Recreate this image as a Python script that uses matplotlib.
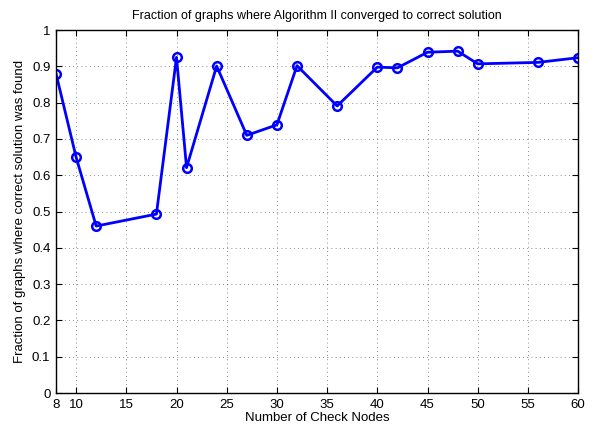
import matplotlib
matplotlib.use("Agg")
import matplotlib.pyplot as plt

# number of check nodes vs fraction of graphs solved
nodes = [8, 10, 12, 18, 20, 21, 24, 27, 30, 32, 36, 40, 42, 45, 48, 50, 56, 60]
frac = [0.880, 0.650, 0.460, 0.493, 0.925, 0.621, 0.901, 0.710, 0.739, 0.902, 0.791,
        0.898, 0.896, 0.939, 0.942, 0.907, 0.911, 0.924]
xticks = [8, 10, 15, 20, 25, 30, 35, 40, 45, 50, 55, 60]
yticks = [0, 0.1, 0.2, 0.3, 0.4, 0.5, 0.6, 0.7, 0.8, 0.9, 1]
ytick_labels = ["0", "0.1", "0.2", "0.3", "0.4", "0.5", "0.6", "0.7", "0.8", "0.9", "1"]

plt.rcParams["font.family"] = ["Liberation Sans", "DejaVu Sans"]
plt.rcParams["font.size"] = 9

fig = plt.figure(figsize=(5.94, 4.30), dpi=100)
ax = fig.add_axes([0.0943, 0.086, 0.879, 0.844])
ax.plot(nodes, frac, "o-", color="#0000ff", lw=2, ms=6.2, mfc="none", mew=1.8)
ax.set_xlim(8, 60); ax.set_ylim(0, 1)
ax.set_xticks(xticks); ax.set_yticks(yticks); ax.set_yticklabels(ytick_labels)
ax.tick_params(direction="in", top=True, right=True, length=4, width=0.8, labelsize=9.5, pad=4)
ax.grid(True, linestyle=(0, (1, 4)), color="black", lw=0.6, alpha=0.6)
for s in ax.spines.values():
    s.set_linewidth(1.0)
ax.set_xlabel("Number of Check Nodes", labelpad=1, fontsize=9.5)
ax.set_ylabel("Fraction of graphs where correct solution was found", labelpad=4, fontsize=9.5)
ax.set_title("Fraction of graphs where Algorithm II converged to correct solution", fontsize=9, pad=8)
fig.savefig("out.png", dpi=100)
